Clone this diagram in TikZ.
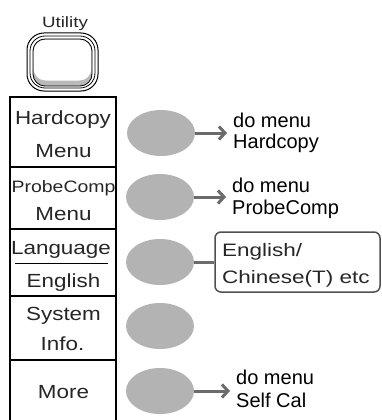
\documentclass[tikz,border=0pt]{standalone}
\usepackage{fontspec}
\usepackage{graphicx}
\setmainfont{Liberation Sans}
\usetikzlibrary{arrows.meta,shapes.geometric}
\definecolor{elgray}{HTML}{B3B3B3}
\definecolor{arrgray}{HTML}{6B6B6B}
\definecolor{boxgray}{HTML}{505050}
\newcommand\sxl[1]{\scalebox{1.18}[1]{#1}}
\newcommand\sxb[1]{\scalebox{1.25}[1]{#1}}
\begin{document}
\begin{tikzpicture}[x=1pt,y=-1pt,
  lbl/.style={font=\fontsize{19}{21}\selectfont, inner sep=0pt, anchor=base, text=black!85},
  rt/.style={font=\fontsize{20}{22}\selectfont, inner sep=0pt, anchor=base west},
  bt/.style={font=\fontsize{18}{20}\selectfont, inner sep=0pt, anchor=base west, text=black!85},
  elp/.style={ellipse, fill=elgray, minimum width=68pt, minimum height=46pt, inner sep=0pt},
  arr/.style={draw=arrgray, line width=3pt, shorten >=6pt, -{Straight Barb[length=6pt,width=13pt]}},
  conn/.style={draw=arrgray, line width=3pt},
  frame/.style={line width=1.3pt},
  langbox/.style={draw=boxgray, line width=1.5pt, rounded corners=6pt, minimum width=165pt, minimum height=60pt, inner sep=0pt}
]
\useasboundingbox (0,0) rectangle (382,420);
% Utility button
\node[lbl, font=\fontsize{15}{17}\selectfont] (util) at (65,27.5) {\scalebox{1.25}[1]{Utility}};
\draw[line width=1pt, rounded corners=17pt] (27,33) rectangle (98,91);
\draw[line width=0.8pt, rounded corners=15pt] (30,36) rectangle (95,88);
\fill[gray!55, rounded corners=12pt] (33,39) rectangle (92,86);
\fill[white, rounded corners=12pt] (33.6,39.6) rectangle (91.4,80.5);
\draw[line width=0.8pt, rounded corners=12pt] (33,39) rectangle (92,86);
% left panel
\draw[frame] (10,421) -- (10,97) -- (116,97) -- (116,421);
\foreach \yy in {167,229,296,360} \draw[frame] (10,\yy) -- (116,\yy);
\draw[line width=0.8pt] (15,263) -- (108,263);
\node[lbl] (l1a) at (63,124) {\sxl{Hardcopy}};
\node[lbl] (l1b) at (63.5,157.5) {\sxl{Menu}};
\node[lbl, font=\fontsize{16.5}{18}\selectfont] (l2a) at (63.5,192) {\sxl{ProbeComp}};
\node[lbl] (l2b) at (63.5,220) {\sxl{Menu}};
\node[lbl] (l3a) at (61,254) {\sxl{Language}};
\node[lbl] (l3b) at (63.5,287) {\sxl{English}};
\node[lbl] (l4a) at (63.5,320) {\sxl{System}};
\node[lbl] (l4b) at (62.5,350) {\sxl{Info.}};
\node[lbl] (l5) at (63.5,398) {\sxl{More}};
% soft keys
\node[elp] (e1) at (161,133) {};
\node[elp] (e2) at (160,197) {};
\node[elp] (e3) at (160,262) {};
\node[elp] (e4) at (160,326) {};
\node[elp] (e5) at (160,391) {};
% right texts
\node[rt] (t1a) at (233,127) {do menu};
\node[rt] (t1b) at (233,148) {Hardcopy};
\node[rt] (t2a) at (232,192) {do menu};
\node[rt] (t2b) at (232,214) {ProbeComp};
\node[rt] (t5a) at (236,384) {do menu};
\node[rt] (t5b) at (236,407) {Self Cal};
\node[langbox] (lb) at (297.5,262) {};
\node[bt] (b1) at (222,256) {\sxb{English/}};
\node[bt] (b2) at (222,283) {\sxb{Chinese(T) etc}};
% connectors
\draw[arr] (e1.east) -- (e1.east -| t1a.west);
\draw[arr] (e2.east) -- (e2.east -| t2a.west);
\draw[arr] (e5.east) -- (e5.east -| t5a.west);
\draw[conn] (e3.east) -- (lb.west);
\end{tikzpicture}
\end{document}
